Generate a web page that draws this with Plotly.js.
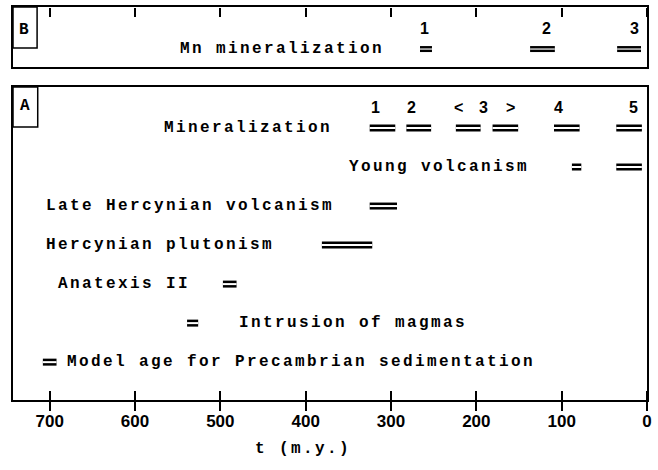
<!DOCTYPE html>
<html>
<head>
<meta charset="utf-8">
<script src="https://cdn.plot.ly/plotly-3.0.1.min.js"></script>
<style>
  html, body { margin: 0; padding: 0; background: #fff; }
  #chart { width: 658px; height: 470px; }
  text.annotation-text { letter-spacing: 2.4px; }
</style>
</head>
<body>
<div id="chart"></div>
<script>
// ---- data (ages in million years) ----
const ageTicks = [700, 600, 500, 400, 300, 200, 100, 0];
const tickLabels = ["700", "600", "500", "400", "300", "200", "100", "0"];

// Panel B
const mnLabel = "Mn mineralization";
const mnStart = [266, 137, 35];
const mnEnd = [252, 108, 7];
const mnNumbers = ["1", "2", "3"];
const mnNumberAge = [260, 117, 14];

// Panel A
const rowNames = ["Mineralization", "Young volcanism", "Late Hercynian volcanism",
  "Hercynian plutonism", "Anatexis II", "Intrusion of magmas",
  "Model age for Precambrian sedimentation"];
const mineralStart = [325, 282, 224, 181, 109, 36];
const mineralEnd = [295, 253, 195, 151, 79, 6];
const mineralNumbers = ["1", "2", "<", "3", ">", "4", "5"];
const mineralNumberAge = [317, 275, 219, 190, 158, 102, 15];
const youngStart = [88, 36];
const youngEnd = [77, 6];
const singleStart = [325, 381, 497, 539, 708];   // rows 2..6
const singleEnd = [293, 322, 481, 526, 692];
const rowLabelAge = [568, 352, 707, 707, 693, 481, 682]; // left edge of each row's label

// ---- styles ----
const MONO = "Courier New, Liberation Mono, monospace";
const SANS = "Liberation Sans, Arial, sans-serif";
const XR = [743, 0];

function segs(starts, ends, row) {
  const x = [], y = [];
  for (let i = 0; i < starts.length; i++) {
    x.push(starts[i], ends[i], null);
    y.push(row, row, null);
  }
  return { x, y };
}

const aX = [], aY = [];
function addA(s) { aX.push(...s.x); aY.push(...s.y); }
addA(segs(mineralStart, mineralEnd, 0));
addA(segs(youngStart, youngEnd, 1));
for (let i = 0; i < singleStart.length; i++) addA(segs([singleStart[i]], [singleEnd[i]], i + 2));
const bSeg = segs(mnStart, mnEnd, 0);

const traces = [
  { x: aX, y: aY, xaxis: "x", yaxis: "y", mode: "lines", line: { color: "#000", width: 7 }, hoverinfo: "skip", showlegend: false },
  { x: aX, y: aY, xaxis: "x", yaxis: "y", mode: "lines", line: { color: "#fff", width: 2 }, hoverinfo: "skip", showlegend: false },
  { x: bSeg.x, y: bSeg.y, xaxis: "x2", yaxis: "y2", mode: "lines", line: { color: "#000", width: 6 }, hoverinfo: "skip", showlegend: false },
  { x: bSeg.x, y: bSeg.y, xaxis: "x2", yaxis: "y2", mode: "lines", line: { color: "#fff", width: 1.2 }, hoverinfo: "skip", showlegend: false },
  // empty traces so the tick-only overlay axes get drawn
  { x: [], y: [], xaxis: "x3", yaxis: "y", mode: "lines", hoverinfo: "skip", showlegend: false },
  { x: [], y: [], xaxis: "x4", yaxis: "y2", mode: "lines", hoverinfo: "skip", showlegend: false }
];

const annotations = [];
const monoFont = { family: MONO, size: 16, color: "#000", weight: "bold" };
const numFont = { family: SANS, size: 16, color: "#000", weight: "bold" };

rowNames.forEach((name, i) => {
  annotations.push({ text: name, x: rowLabelAge[i], y: i, xref: "x", yref: "y",
    xanchor: "left", yanchor: "middle", showarrow: false, font: monoFont });
});
annotations.push({ text: mnLabel, x: 550, y: 0, xref: "x2", yref: "y2",
  xanchor: "left", yanchor: "middle", showarrow: false, font: monoFont });
mineralNumbers.forEach((t, i) => {
  annotations.push({ text: t, x: mineralNumberAge[i], y: 0, xref: "x", yref: "y", yshift: 20,
    xanchor: "center", yanchor: "middle", showarrow: false, font: numFont });
});
mnNumbers.forEach((t, i) => {
  annotations.push({ text: t, x: mnNumberAge[i], y: 0, xref: "x2", yref: "y2", yshift: 21,
    xanchor: "center", yanchor: "middle", showarrow: false, font: numFont });
});
annotations.push({ text: "B", x: 0.019, y: 0.62, xref: "x2 domain", yref: "y2 domain",
  xanchor: "center", yanchor: "middle", showarrow: false, font: monoFont });
annotations.push({ text: "A", x: 0.0205, y: 0.94, xref: "x domain", yref: "y domain",
  xanchor: "center", yanchor: "middle", showarrow: false, font: monoFont });
annotations.push({ text: "t (m.y.)", x: 0.457, y: -0.125, xref: "paper", yref: "paper",
  xanchor: "center", yanchor: "middle", showarrow: false, font: monoFont });

const noAxis = { showgrid: false, zeroline: false };
const tickStyle = { ticklen: 9, tickwidth: 2, tickcolor: "#000", tickmode: "array", tickvals: ageTicks };
const layout = {
  width: 658, height: 470,
  margin: { l: 13, r: 11, t: 7, b: 70 },
  paper_bgcolor: "#fff", plot_bgcolor: "#fff",
  showlegend: false,
  xaxis: Object.assign({}, noAxis, tickStyle, {
    domain: [0, 1], range: XR, anchor: "y",
    showline: true, linecolor: "#000", linewidth: 2, mirror: true,
    ticks: "outside", ticktext: tickLabels, ticklabelstandoff: -4,
    tickfont: { family: SANS, size: 17, color: "#000", weight: "bold" }
  }),
  // upward half of the bottom ticks
  xaxis3: Object.assign({}, noAxis, tickStyle, {
    overlaying: "x", anchor: "free", position: 0, range: XR, side: "top",
    showline: false, ticks: "outside", showticklabels: false
  }),
  xaxis2: Object.assign({}, noAxis, {
    domain: [0, 1], range: XR, anchor: "y2",
    showline: true, linecolor: "#000", linewidth: 2, mirror: true,
    ticks: "", showticklabels: false
  }),
  // downward ticks along top of panel B
  xaxis4: Object.assign({}, noAxis, tickStyle, {
    overlaying: "x2", anchor: "free", position: 1, range: XR, side: "bottom",
    showline: false, ticks: "outside", showticklabels: false
  }),
  yaxis: Object.assign({}, noAxis, {
    domain: [0, 0.7964], range: [6.97, -1.05], anchor: "x",
    showline: true, linecolor: "#000", linewidth: 2, mirror: true,
    ticks: "", showticklabels: false
  }),
  yaxis2: Object.assign({}, noAxis, {
    domain: [0.8473, 1], range: [0.46, -1.077], anchor: "x2",
    showline: true, linecolor: "#000", linewidth: 2, mirror: true,
    ticks: "", showticklabels: false
  }),
  shapes: [
    { type: "rect", xref: "x2 domain", yref: "y2 domain", x0: 0, x1: 0.038, y0: 0.317, y1: 1,
      line: { color: "#000", width: 1.5 } },
    { type: "rect", xref: "x domain", yref: "y domain", x0: 0, x1: 0.039, y0: 0.872, y1: 1,
      line: { color: "#000", width: 1.5 } }
  ],
  annotations: annotations
};

Plotly.newPlot("chart", traces, layout, { displayModeBar: false, staticPlot: true });
</script>
</body>
</html>
